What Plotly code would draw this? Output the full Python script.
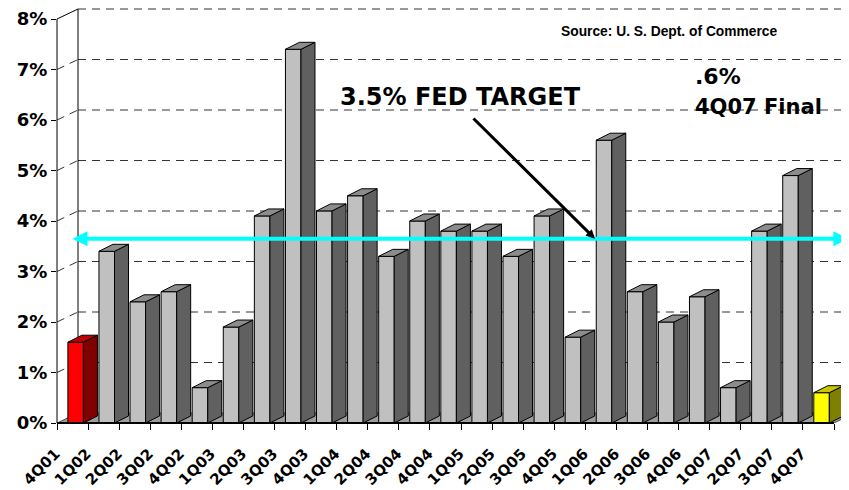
import plotly.graph_objects as go

# ---------------- data ----------------
quarters = ["4Q01", "1Q02", "2Q02", "3Q02", "4Q02", "1Q03", "2Q03", "3Q03", "4Q03",
            "1Q04", "2Q04", "3Q04", "4Q04", "1Q05", "2Q05", "3Q05", "4Q05",
            "1Q06", "2Q06", "3Q06", "4Q06", "1Q07", "2Q07", "3Q07", "4Q07"]
gdp_growth = [1.6, 3.4, 2.4, 2.6, 0.7, 1.9, 4.1, 7.4, 4.2,
              4.5, 3.3, 4.0, 3.8, 3.8, 3.3, 4.1, 1.7,
              5.6, 2.6, 2.0, 2.5, 0.7, 3.8, 4.9, 0.6]
highlight = {"4Q01": "red", "4Q07": "yellow"}
y_ticks = [0, 1, 2, 3, 4, 5, 6, 7, 8]
y_tick_labels = [f"{t}%" for t in y_ticks]
fed_target = 3.5
source_text = "Source: U. S. Dept. of Commerce"
target_text = "3.5% FED TARGET"
final_value_text = ".6%"
final_label_text = "4Q07 Final"

# ---------------- styling / geometry ----------------
palette = {
    "gray":   {"front": "#C0C0C0", "side": "#606060", "top": "#8C8C8C"},
    "red":    {"front": "#FF0000", "side": "#800000", "top": "#C00000"},
    "yellow": {"front": "#FFFF00", "side": "#808000", "top": "#C8C800"},
}
VIEW_W, VIEW_H = 849, 490
PAGE_OFF = 8                      # default body margin of the html page
W, H = VIEW_W - PAGE_OFF, VIEW_H - PAGE_OFF
PLOT_L, PLOT_R, PLOT_T, PLOT_B = 57, 849, 8, 423   # plot area in screen pixels
M_L, M_R = PLOT_L - PAGE_OFF, VIEW_W - PLOT_R
M_T, M_B = PLOT_T - PAGE_OFF, VIEW_H - PLOT_B
PX_X = 31.08     # pixels per category
PX_Y = 50.5      # pixels per percent
x_max = (PLOT_R - PLOT_L) / PX_X
y_max = (PLOT_B - PLOT_T) / PX_Y
wall_dx, wall_dy = 21 / PX_X, 10 / PX_Y       # chart depth
bar_off, bar_w = 0.35, 0.50                    # front face inside category
bar_dx, bar_dy = 14 / PX_X, 7 / PX_Y           # bar depth
n = len(quarters)
cyan_y = fed_target + 0.75 * wall_dy
label_shift = -0.45

FONT = "DejaVu Sans"

fig = go.Figure()

# front faces (bars)
front_colors = [palette[highlight.get(q, "gray")]["front"] for q in quarters]
fig.add_trace(go.Bar(
    x=[i + bar_off + bar_w / 2 for i in range(n)], y=gdp_growth, width=bar_w,
    marker=dict(color=front_colors, line=dict(color="black", width=1)),
    hoverinfo="skip", showlegend=False))

# side and top faces
for cname, cols in palette.items():
    sx, sy, tx, ty = [], [], [], []
    for i, (q, v) in enumerate(zip(quarters, gdp_growth)):
        if highlight.get(q, "gray") != cname:
            continue
        x0 = i + bar_off
        x1 = x0 + bar_w
        sx += [x1, x1 + bar_dx, x1 + bar_dx, x1, x1, None]
        sy += [0, bar_dy, v + bar_dy, v, 0, None]
        tx += [x0, x1, x1 + bar_dx, x0 + bar_dx, x0, None]
        ty += [v, v, v + bar_dy, v + bar_dy, v, None]
    if not sx:
        continue
    fig.add_trace(go.Scatter(x=sx, y=sy, fill="toself", fillcolor=cols["side"], mode="lines",
                             line=dict(color="black", width=1), hoverinfo="skip", showlegend=False))
    fig.add_trace(go.Scatter(x=tx, y=ty, fill="toself", fillcolor=cols["top"], mode="lines",
                             line=dict(color="black", width=1), hoverinfo="skip", showlegend=False))

# ---------------- walls, floor, gridlines (shapes below traces) ----------------
shapes = []
shapes.append(dict(type="path", xref="x", yref="y", layer="below",
                   path=f"M0,0 L{n},0 L{n + wall_dx},{wall_dy} L{wall_dx},{wall_dy} Z",
                   fillcolor="#9C9C9C", line=dict(color="black", width=0.6)))
for t in y_ticks[1:]:
    shapes.append(dict(type="line", xref="x", yref="y", layer="below",
                       x0=wall_dx, x1=x_max, y0=t + wall_dy, y1=t + wall_dy,
                       line=dict(color="#333333", width=1, dash="8px,6px")))
    if t != y_ticks[-1]:
        shapes.append(dict(type="line", xref="x", yref="y", layer="below",
                           x0=0, x1=wall_dx, y0=t, y1=t + wall_dy,
                           line=dict(color="#333333", width=1, dash="8px,6px")))
shapes.append(dict(type="line", xref="x", yref="y", layer="below",
                   x0=wall_dx, x1=wall_dx, y0=wall_dy, y1=y_ticks[-1] + wall_dy,
                   line=dict(color="black", width=1)))
shapes.append(dict(type="line", xref="x", yref="y", layer="below",
                   x0=0, x1=wall_dx, y0=y_ticks[-1], y1=y_ticks[-1] + wall_dy,
                   line=dict(color="black", width=1)))
shapes.append(dict(type="line", xref="paper", yref="y", layer="above",
                   x0=0, x1=0, y0=0, y1=y_ticks[-1], line=dict(color="black", width=1)))
shapes.append(dict(type="line", xref="x", yref="paper", layer="above",
                   x0=0, x1=n, y0=0, y1=0, line=dict(color="black", width=2)))

# ---------------- annotations ----------------
def py(pix_y):
    return (PLOT_B - pix_y) / PX_Y

def px(pix_x):
    return (pix_x - PLOT_L) / PX_X

annotations = [
    dict(x=x_max - 0.02, y=cyan_y, ax=px(71), ay=cyan_y, xref="x", yref="y", axref="x", ayref="y",
         text="", showarrow=True, arrowhead=2, arrowside="end+start", arrowsize=0.75,
         arrowwidth=4, arrowcolor="#00FFFF"),
    dict(x=px(595), y=cyan_y, ax=px(472), ay=py(117), xref="x", yref="y", axref="x", ayref="y",
         text="", showarrow=True, arrowhead=2, arrowsize=0.6, arrowwidth=3, arrowcolor="black"),
    dict(x=px(460.5), y=py(97), xref="x", yref="y", text=f"<b>{target_text}</b>", showarrow=False,
         xanchor="center", yanchor="middle", font=dict(family=FONT, size=24, color="black")),
    dict(x=px(693), y=py(76.5), xref="x", yref="y", text=f"<b>{final_value_text}</b>", showarrow=False,
         xanchor="left", yanchor="middle", font=dict(family=FONT, size=22, color="black")),
    dict(x=px(693), y=py(106.5), xref="x", yref="y", text=f"<b>{final_label_text}</b>", showarrow=False,
         xanchor="left", yanchor="middle", font=dict(family=FONT, size=21, color="black")),
    dict(x=px(559), y=py(31), xref="x", yref="y", text=f"<b>{source_text}</b>", showarrow=False,
         xanchor="left", yanchor="middle", font=dict(family="Liberation Sans", size=13.8, color="black")),
]

fig.update_layout(
    width=W, height=H,
    margin=dict(l=M_L, r=M_R, t=M_T, b=M_B, pad=0, autoexpand=False),
    paper_bgcolor="white", plot_bgcolor="white",
    barmode="overlay", showlegend=False,
    shapes=shapes, annotations=annotations,
    xaxis=dict(range=[0, x_max], showgrid=False, zeroline=False, showline=False, automargin=False,
               tickmode="array", tickvals=[i + 0.5 + label_shift for i in range(n)], ticktext=quarters,
               ticks="", tickangle=-45, ticklabelstandoff=18, ticklabelshift=-3,
               tickfont=dict(family=FONT, size=15, color="black", weight="bold"),
               minor=dict(tickmode="array", tickvals=list(range(n + 1)), ticks="outside",
                          ticklen=6, tickwidth=1, tickcolor="black", showgrid=False)),
    yaxis=dict(range=[0, y_max], showgrid=False, zeroline=False, showline=False, automargin=False,
               tickmode="array", tickvals=y_ticks, ticktext=y_tick_labels,
               ticks="outside", ticklen=5, tickwidth=1, tickcolor="black",
               tickfont=dict(family=FONT, size=18, color="black", weight="bold")),
)

fig.write_html("out.html")
